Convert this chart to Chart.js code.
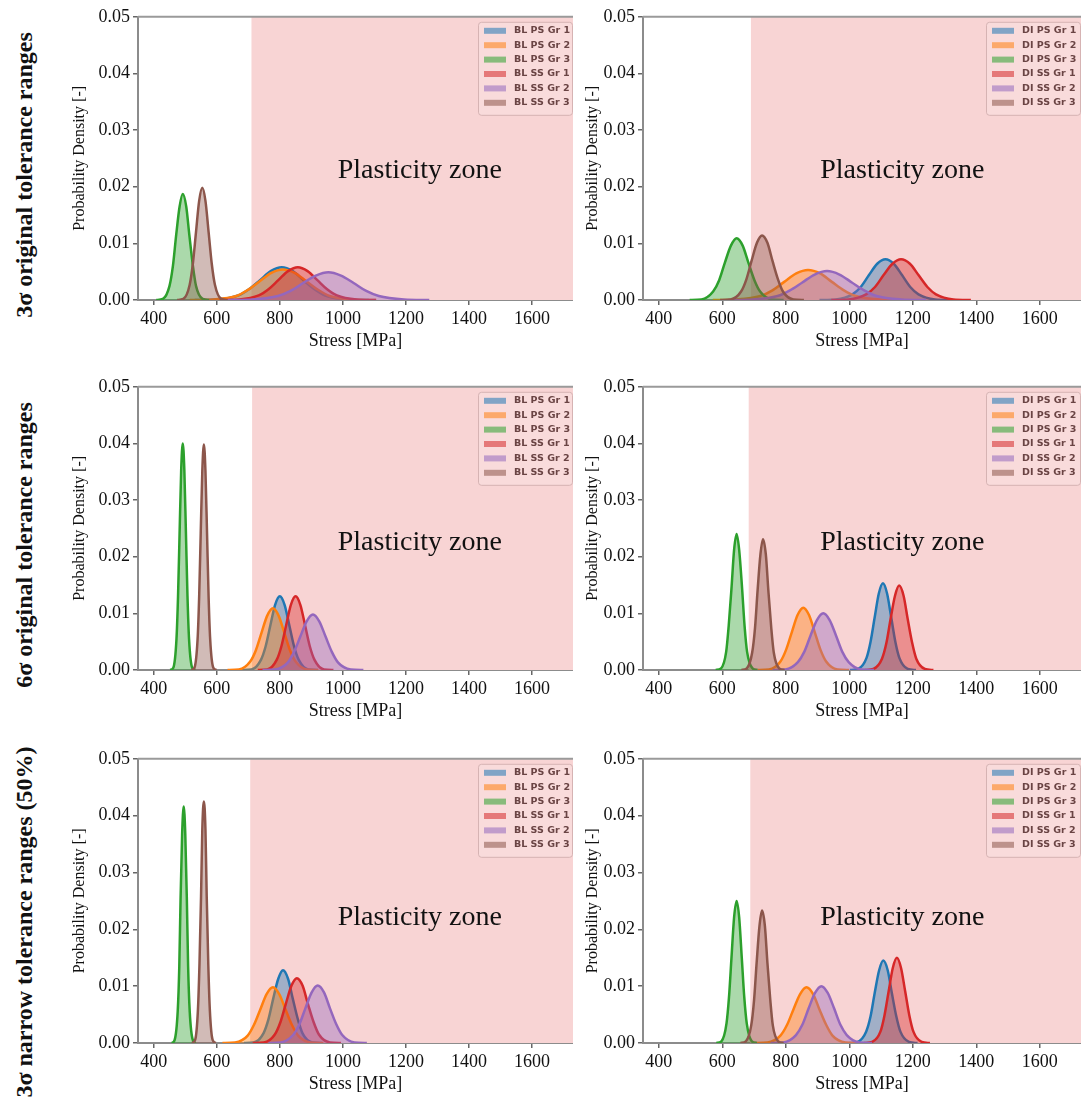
<!DOCTYPE html>
<html>
<head>
<meta charset="utf-8">
<script src="https://cdn.jsdelivr.net/npm/chart.js@4.4.0/dist/chart.umd.min.js"></script>
<style>
    body { margin: 0; background: #fff; width: 1081px; height: 1108px; position: relative; overflow: hidden; }
    canvas { position: absolute; }
    .rowlabel { position: absolute; font: bold 24px "Liberation Serif", serif; color: #111; white-space: nowrap;
                transform: translate(-50%, -50%) rotate(-90deg); }
</style>
</head>
<body>
<div class="rowlabel" style="left:24px; top:175px">3σ original tolerance ranges</div>
<div class="rowlabel" style="left:24px; top:545px">6σ original tolerance ranges</div>
<div class="rowlabel" style="left:24px; top:922px">3σ narrow tolerance ranges (50%)</div>

<script>
// legend labels
const blLabels = ['BL PS Gr 1', 'BL PS Gr 2', 'BL PS Gr 3', 'BL SS Gr 1', 'BL SS Gr 2', 'BL SS Gr 3'];
const diLabels = ['DI PS Gr 1', 'DI PS Gr 2', 'DI PS Gr 3', 'DI SS Gr 1', 'DI SS Gr 2', 'DI SS Gr 3'];

// axis ticks
const xTicks = [400, 600, 800, 1000, 1200, 1400, 1600];
const yTicks = [0, 0.01, 0.02, 0.03, 0.04, 0.05];

// start of plasticity zone [MPa], one per row
const zoneStartBL = [710, 712, 706];
const zoneStartDI = [690, 683, 688];

// density curves: [stress, density]
// order in each panel: PS Gr 1, PS Gr 2, PS Gr 3, SS Gr 1, SS Gr 2, SS Gr 3

// row 1 - 3 sigma original, BL
const sig3BL = [
    [[530,0],[599,0.0001],[668,0.0008],[702,0.0019],[737,0.0035],[771,0.0051],[806,0.0058],[841,0.0051],[875,0.0035],[910,0.0019],[944,0.0008],[1013,0.0001],[1082,0]],
    [[514,0],[588,0.0001],[662,0.0007],[699,0.0018],[736,0.0033],[773,0.0048],[810,0.0054],[847,0.0048],[884,0.0033],[921,0.0018],[958,0.0007],[1032,0.0001],[1106,0]],
    [[408,0],[429,0.0002],[450,0.0025],[461,0.0061],[471,0.0114],[482,0.0165],[492,0.0187],[503,0.0165],[513,0.0114],[524,0.0061],[534,0.0025],[555,0.0002],[576,0]],
    [[609,0],[671,0.0001],[733,0.0008],[764,0.0019],[795,0.0035],[826,0.0051],[857,0.0058],[888,0.0051],[919,0.0035],[950,0.0019],[981,0.0008],[1043,0.0001],[1105,0]],
    [[634,0],[714,0.0001],[794,0.0007],[834,0.0016],[874,0.0030],[914,0.0043],[954,0.0049],[994,0.0043],[1034,0.0030],[1074,0.0016],[1114,0.0007],[1194,0.0001],[1274,0]],
    [[474,0],[494,0.0002],[514,0.0027],[524,0.0064],[534,0.0120],[544,0.0175],[554,0.0198],[564,0.0175],[574,0.0120],[584,0.0064],[594,0.0027],[614,0.0002],[634,0]]
];
// row 1 - 3 sigma original, DI
const sig3DI = [
    [[906,0],[958,0.0001],[1010,0.0010],[1036,0.0023],[1062,0.0044],[1088,0.0064],[1114,0.0072],[1140,0.0064],[1166,0.0044],[1192,0.0023],[1218,0.0010],[1270,0.0001],[1322,0]],
    [[570,0],[645,0.0001],[720,0.0007],[758,0.0017],[795,0.0032],[833,0.0047],[870,0.0053],[908,0.0047],[945,0.0032],[983,0.0017],[1020,0.0007],[1095,0.0001],[1170,0]],
    [[497,0],[534,0.0001],[571,0.0015],[590,0.0035],[608,0.0066],[627,0.0096],[645,0.0109],[664,0.0096],[682,0.0066],[701,0.0035],[719,0.0015],[756,0.0001],[793,0]],
    [[943,0],[998,0.0001],[1053,0.0010],[1081,0.0023],[1108,0.0044],[1136,0.0064],[1163,0.0072],[1191,0.0064],[1218,0.0044],[1246,0.0023],[1273,0.0010],[1328,0.0001],[1383,0]],
    [[618,0],[696,0.0001],[774,0.0007],[813,0.0017],[852,0.0031],[891,0.0045],[930,0.0051],[969,0.0045],[1008,0.0031],[1047,0.0017],[1086,0.0007],[1164,0.0001],[1242,0]],
    [[593,0],[626,0.0001],[659,0.0015],[676,0.0037],[692,0.0069],[709,0.0101],[725,0.0114],[742,0.0101],[758,0.0069],[775,0.0037],[791,0.0015],[824,0.0001],[857,0]]
];
// row 2 - 6 sigma original, BL
const sig6BL = [
    [[680,0],[710,0.0001],[740,0.0018],[755,0.0042],[770,0.0079],[785,0.0115],[800,0.0130],[815,0.0115],[830,0.0079],[845,0.0042],[860,0.0018],[890,0.0001],[920,0]],
    [[634,0],[670,0.0001],[706,0.0015],[724,0.0035],[742,0.0066],[760,0.0096],[778,0.0109],[796,0.0096],[814,0.0066],[832,0.0035],[850,0.0015],[886,0.0001],[922,0]],
    [[452,0],[462,0.0004],[472,0.0054],[477,0.0130],[482,0.0243],[487,0.0353],[492,0.0400],[497,0.0353],[502,0.0243],[507,0.0130],[512,0.0054],[522,0.0004],[532,0]],
    [[730,0],[760,0.0001],[790,0.0018],[805,0.0042],[820,0.0079],[835,0.0115],[850,0.0130],[865,0.0115],[880,0.0079],[895,0.0042],[910,0.0018],[940,0.0001],[970,0]],
    [[745,0],[785,0.0001],[825,0.0013],[845,0.0032],[865,0.0059],[885,0.0086],[905,0.0098],[925,0.0086],[945,0.0059],[965,0.0032],[985,0.0013],[1025,0.0001],[1065,0]],
    [[519,0],[529,0.0004],[539,0.0054],[544,0.0129],[549,0.0242],[554,0.0351],[559,0.0398],[564,0.0351],[569,0.0242],[574,0.0129],[579,0.0054],[589,0.0004],[599,0]]
];
// row 2 - 6 sigma original, DI
const sig6DI = [
    [[1002,0],[1028,0.0002],[1054,0.0021],[1067,0.0050],[1080,0.0093],[1093,0.0135],[1106,0.0153],[1119,0.0135],[1132,0.0093],[1145,0.0050],[1158,0.0021],[1184,0.0002],[1210,0]],
    [[711,0],[747,0.0001],[783,0.0015],[801,0.0036],[819,0.0067],[837,0.0097],[855,0.0110],[873,0.0097],[891,0.0067],[909,0.0036],[927,0.0015],[963,0.0001],[999,0]],
    [[579,0],[596,0.0003],[612,0.0032],[620,0.0078],[629,0.0146],[637,0.0212],[645,0.0240],[653,0.0212],[662,0.0146],[670,0.0078],[678,0.0032],[695,0.0003],[711,0]],
    [[1049,0],[1076,0.0002],[1103,0.0020],[1117,0.0048],[1130,0.0090],[1144,0.0131],[1157,0.0149],[1171,0.0131],[1184,0.0090],[1198,0.0048],[1211,0.0020],[1238,0.0002],[1265,0]],
    [[758,0],[798,0.0001],[838,0.0014],[858,0.0032],[878,0.0061],[898,0.0088],[918,0.0100],[938,0.0088],[958,0.0061],[978,0.0032],[998,0.0014],[1038,0.0001],[1078,0]],
    [[660,0],[677,0.0003],[694,0.0031],[703,0.0075],[711,0.0140],[720,0.0204],[728,0.0231],[737,0.0204],[745,0.0140],[754,0.0075],[762,0.0031],[779,0.0003],[796,0]]
];
// row 3 - 3 sigma narrow (50%), BL
const narrowBL = [
    [[686,0],[717,0.0001],[748,0.0017],[764,0.0042],[779,0.0078],[795,0.0113],[810,0.0128],[826,0.0113],[841,0.0078],[857,0.0042],[872,0.0017],[903,0.0001],[934,0]],
    [[618,0],[658,0.0001],[698,0.0013],[718,0.0032],[738,0.0059],[758,0.0086],[778,0.0098],[798,0.0086],[818,0.0059],[838,0.0032],[858,0.0013],[898,0.0001],[938,0]],
    [[457,0],[466,0.0005],[476,0.0056],[481,0.0135],[485,0.0252],[490,0.0367],[495,0.0416],[500,0.0367],[505,0.0252],[509,0.0135],[514,0.0056],[524,0.0005],[533,0]],
    [[714,0],[749,0.0001],[784,0.0015],[802,0.0037],[819,0.0069],[837,0.0101],[854,0.0114],[872,0.0101],[889,0.0069],[907,0.0037],[924,0.0015],[959,0.0001],[994,0]],
    [[764,0],[803,0.0001],[842,0.0014],[862,0.0033],[881,0.0061],[901,0.0089],[920,0.0101],[940,0.0089],[959,0.0061],[979,0.0033],[998,0.0014],[1037,0.0001],[1076,0]],
    [[521,0],[531,0.0005],[540,0.0057],[545,0.0138],[550,0.0258],[554,0.0375],[559,0.0425],[564,0.0375],[568,0.0258],[573,0.0138],[578,0.0057],[587,0.0005],[597,0]]
];
// row 3 - 3 sigma narrow (50%), DI
const narrowDI = [
    [[999,0],[1026,0.0002],[1053,0.0020],[1067,0.0047],[1080,0.0088],[1094,0.0128],[1107,0.0145],[1121,0.0128],[1134,0.0088],[1148,0.0047],[1161,0.0020],[1188,0.0002],[1215,0]],
    [[701,0],[742,0.0001],[783,0.0013],[804,0.0032],[824,0.0059],[845,0.0086],[865,0.0098],[886,0.0086],[906,0.0059],[927,0.0032],[947,0.0013],[988,0.0001],[1029,0]],
    [[581,0],[597,0.0003],[613,0.0034],[621,0.0081],[629,0.0152],[637,0.0221],[645,0.0250],[653,0.0221],[661,0.0152],[669,0.0081],[677,0.0034],[693,0.0003],[709,0]],
    [[1046,0],[1072,0.0002],[1098,0.0020],[1111,0.0049],[1124,0.0091],[1137,0.0132],[1150,0.0150],[1163,0.0132],[1176,0.0091],[1189,0.0049],[1202,0.0020],[1228,0.0002],[1254,0]],
    [[752,0],[792,0.0001],[832,0.0014],[852,0.0032],[872,0.0061],[892,0.0088],[912,0.0100],[932,0.0088],[952,0.0061],[972,0.0032],[992,0.0014],[1032,0.0001],[1072,0]],
    [[657,0],[674,0.0003],[691,0.0031],[700,0.0076],[708,0.0141],[717,0.0206],[725,0.0233],[734,0.0206],[742,0.0141],[751,0.0076],[759,0.0031],[776,0.0003],[793,0]]
];

const colors = ['#1f77b4', '#ff7f0e', '#2ca02c', '#d62728', '#9467bd', '#8c564b'];

function rgba(hex, a) {
    const n = parseInt(hex.slice(1), 16);
    return 'rgba(' + (n >> 16) + ',' + ((n >> 8) & 255) + ',' + (n & 255) + ',' + a + ')';
}

const serif = '"Liberation Serif", "Times New Roman", serif';

// pink background from the yield limit to the right edge
const zonePlugin = {
    id: 'zone',
    beforeDatasetsDraw(chart, args, opts) {
        const {ctx, chartArea, scales} = chart;
        const x0 = scales.x.getPixelForValue(opts.start);
        ctx.save();
        ctx.fillStyle = '#f8d4d4';
        ctx.fillRect(x0, chartArea.top, chartArea.right - x0, chartArea.bottom - chartArea.top);
        ctx.restore();
    },
    afterDatasetsDraw(chart, args, opts) {
        const {ctx, scales} = chart;
        ctx.save();
        ctx.font = '28px ' + serif;
        ctx.fillStyle = '#111';
        ctx.textAlign = 'center';
        ctx.textBaseline = 'middle';
        ctx.fillText('Plasticity zone', scales.x.getPixelForValue(opts.textX), scales.y.getPixelForValue(opts.textY));
        ctx.restore();
    }
};

// small boxed legend in the top right corner
const boxLegend = {
    id: 'boxLegend',
    afterDatasetsDraw(chart) {
        const {ctx, chartArea} = chart;
        const x0 = chartArea.right - 95, y0 = chartArea.top + 5;
        ctx.save();
        ctx.fillStyle = 'rgba(255,255,255,0.18)';
        ctx.strokeStyle = 'rgba(210,175,175,0.9)';
        ctx.lineWidth = 1;
        ctx.beginPath();
        ctx.roundRect(x0 + 0.5, y0 + 0.5, 94, 93, 3);
        ctx.fill();
        ctx.stroke();
        ctx.font = 'bold 9.5px "DejaVu Sans", sans-serif';
        ctx.textBaseline = 'middle';
        chart.data.datasets.forEach((ds, i) => {
            const y = y0 + 9 + i * 14.4;
            ctx.fillStyle = rgba(colors[i], 0.55);
            ctx.fillRect(x0 + 6, y - 3, 22, 6);
            ctx.fillStyle = '#6a4444';
            ctx.fillText(ds.label, x0 + 36, y);
        });
        ctx.restore();
    }
};

// light frame line on top of the plot area
const topFrame = {
    id: 'topFrame',
    afterDraw(chart) {
        const {ctx, chartArea} = chart;
        ctx.save();
        ctx.strokeStyle = '#9a9a9a';
        ctx.lineWidth = 2;
        ctx.beginPath();
        ctx.moveTo(chartArea.left, chartArea.top);
        ctx.lineTo(chartArea.right, chartArea.top);
        ctx.stroke();
        ctx.restore();
    }
};

const rowTops = [15, 385, 757];
const rowHeights = [285, 285, 286];
const textY = [0.0228, 0.0225, 0.022];

const panels = [
    {row: 0, side: 'L', series: sig3BL,   labels: blLabels, zone: zoneStartBL[0]},
    {row: 0, side: 'R', series: sig3DI,   labels: diLabels, zone: zoneStartDI[0]},
    {row: 1, side: 'L', series: sig6BL,   labels: blLabels, zone: zoneStartBL[1]},
    {row: 1, side: 'R', series: sig6DI,   labels: diLabels, zone: zoneStartDI[1]},
    {row: 2, side: 'L', series: narrowBL, labels: blLabels, zone: zoneStartBL[2]},
    {row: 2, side: 'R', series: narrowDI, labels: diLabels, zone: zoneStartDI[2]}
];

panels.forEach(p => {
    const left = p.side === 'L' ? 70 : 583;
    const width = p.side === 'L' ? 503 : 498;
    const yAxisW = p.side === 'L' ? 68 : 60;
    const padTop = 12;
    const height = padTop + rowHeights[p.row] + 52;

    const canvas = document.createElement('canvas');
    canvas.width = width;
    canvas.height = height;
    canvas.style.left = left + 'px';
    canvas.style.top = (rowTops[p.row] - padTop) + 'px';
    canvas.style.width = width + 'px';
    canvas.style.height = height + 'px';
    document.body.appendChild(canvas);

    new Chart(canvas, {
        type: 'line',
        data: {
            datasets: p.series.map((pts, i) => ({
                label: p.labels[i],
                data: pts.map(pt => ({x: pt[0], y: pt[1]})),
                borderColor: colors[i],
                backgroundColor: rgba(colors[i], 0.4),
                fill: 'origin',
                borderWidth: 2.5,
                pointRadius: 0,
                cubicInterpolationMode: 'monotone',
                order: 6 - i
            }))
        },
        options: {
            responsive: false,
            animation: false,
            events: [],
            layout: { padding: { top: padTop, right: 0, bottom: 0, left: 0 } },
            plugins: {
                legend: { display: false },
                tooltip: { enabled: false },
                zone: { start: p.zone, textX: p.side === 'L' ? 1244 : 1167, textY: textY[p.row] }
            },
            scales: {
                x: {
                    type: 'linear',
                    min: 350,
                    max: 1730,
                    afterBuildTicks: s => { s.ticks = xTicks.map(v => ({value: v})); },
                    afterFit: s => { s.height = 52; },
                    ticks: { font: { family: serif, size: 18 }, color: '#111', padding: 3, maxRotation: 0, callback: v => String(v) },
                    grid: { drawOnChartArea: false, tickLength: 5, color: '#666', lineWidth: 1.5 },
                    border: { color: '#8c8c8c', width: 2 },
                    title: { display: true, text: 'Stress [MPa]', font: { family: serif, size: 18 }, color: '#111', padding: 0 }
                },
                y: {
                    type: 'linear',
                    min: 0,
                    max: 0.05,
                    afterBuildTicks: s => { s.ticks = yTicks.map(v => ({value: v})); },
                    afterFit: s => { s.width = yAxisW; },
                    ticks: { font: { family: serif, size: 18 }, color: '#111', padding: 3, callback: v => v.toFixed(2) },
                    grid: { drawOnChartArea: false, tickLength: 5, color: '#666', lineWidth: 1.5 },
                    border: { color: '#8c8c8c', width: 2 },
                    title: { display: true, text: 'Probability Density [-]', font: { family: serif, size: 16 }, color: '#111', padding: 0 }
                }
            }
        },
        plugins: [zonePlugin, boxLegend, topFrame]
    });
});
</script>
</body>
</html>
